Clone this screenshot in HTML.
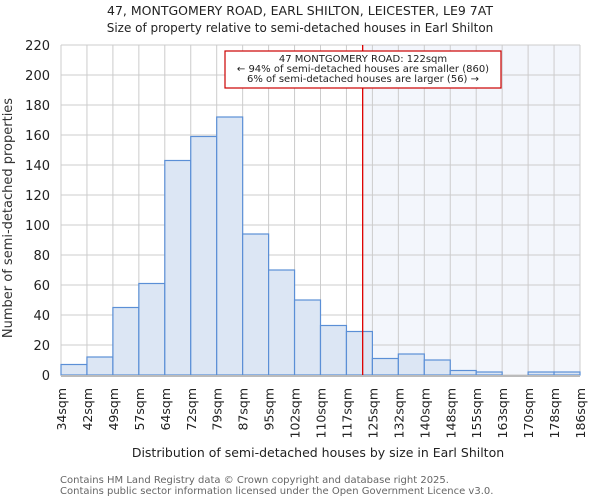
<!DOCTYPE html>
<html><head><meta charset="utf-8"><style>body{margin:0;background:#fff}svg{display:block;font-family:"DejaVu Sans","Liberation Sans",sans-serif}</style></head>
<body>
<svg id="c" width="600" height="500" viewBox="0 0 600 500">
<text x="300" y="15" text-anchor="middle" font-size="12.5" fill="#222">47, MONTGOMERY ROAD, EARL SHILTON, LEICESTER, LE9 7AT</text>
<text x="300" y="32" text-anchor="middle" font-size="12" fill="#222">Size of property relative to semi-detached houses in Earl Shilton</text>
<text transform="translate(12,218) rotate(-90)" text-anchor="middle" font-size="13" fill="#333">Number of semi-detached properties</text>
<text x="318" y="457" text-anchor="middle" font-size="12.5" fill="#222">Distribution of semi-detached houses by size in Earl Shilton</text>
<text x="60" y="483" font-size="10" fill="#666">Contains HM Land Registry data © Crown copyright and database right 2025.</text>
<text x="60" y="494" font-size="10" fill="#666">Contains public sector information licensed under the Open Government Licence v3.0.</text>
<g id="plot"></g>
</svg>
<script>
const edges=[34,42,49,57,64,72,79,87,95,102,110,117,125,132,140,148,155,163,170,178,186];
const counts=[7,12,45,61,143,159,172,94,70,50,33,29,11,14,10,3,2,0,2,2];
const yTicks=[0,20,40,60,80,100,120,140,160,180,200,220];
const subjectSize=122;
const annotationLines=["47 MONTGOMERY ROAD: 122sqm","← 94% of semi-detached houses are smaller (860)","6% of semi-detached houses are larger (56) →"];
const L=61,R=580,T=45,B=375,NS="http://www.w3.org/2000/svg";
const bw=(R-L)/counts.length;
const xi=i=>L+i*bw;
function xv(v){for(let i=0;i<edges.length-1;i++){if(v<=edges[i+1])return xi(i+(v-edges[i])/(edges[i+1]-edges[i]));}return R;}
const y=v=>B-(v/220)*(B-T);
const g=document.getElementById('plot');
function mk(t,a,p){const e=document.createElementNS(NS,t);for(const k in a)e.setAttribute(k,a[k]);(p||g).appendChild(e);return e;}
const rx=xv(subjectSize);
let e=mk('rect',{x:rx,y:T,width:R-rx,height:B-T,fill:'#f3f6fc'});


yTicks.forEach(t=>{let l=mk('line',{x1:L,x2:R,y1:y(t),y2:y(t),stroke:'#ccc','stroke-width':1});


let tx=mk('text',{x:50,y:y(t)+5,'text-anchor':'end','font-size':13,fill:'#222'});tx.textContent=t;

});
edges.forEach((v,i)=>{let l=mk('line',{x1:xi(i),x2:xi(i),y1:T,y2:B,stroke:'#ccc','stroke-width':1});


let tx=mk('text',{transform:`translate(${xi(i)+5},388) rotate(-90)`,'text-anchor':'end','font-size':12.5,fill:'#222'});tx.textContent=v+'sqm';

});
counts.forEach((c,i)=>{if(c<=0)return;let r=mk('rect',{x:xi(i),y:y(c),width:bw,height:B-y(c),fill:'#dce6f4',stroke:'#5b8fd6','stroke-width':1.2});

});
let ax=mk('line',{x1:L,x2:R,y1:B+1,y2:B+1,stroke:'#bbb','stroke-width':2});


let rl=mk('line',{x1:rx,x2:rx,y1:T,y2:B,stroke:'#d00','stroke-width':1.3});


let box=mk('rect',{x:225,y:51,width:276,height:37,fill:'#fff',stroke:'#c00','stroke-width':1.2});


annotationLines.forEach((s,i)=>{let t=mk('text',{x:363,y:62+i*10,'text-anchor':'middle','font-size':10,fill:'#222'});t.textContent=s;

});
</script>
</body></html>
